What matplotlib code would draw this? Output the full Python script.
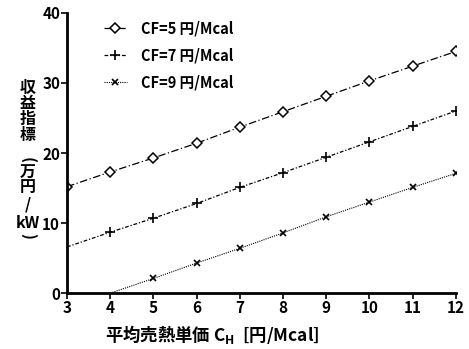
import matplotlib
matplotlib.use("Agg")
import matplotlib.pyplot as plt

plt.rcParams['font.family'] = ['Noto Sans CJK JP', 'DejaVu Sans']

x5 = [3, 4, 5, 6, 7, 8, 9, 10, 11, 12]
y5 = [15.2, 17.3, 19.3, 21.4, 23.7, 25.9, 28.1, 30.3, 32.4, 34.5]
x7 = [3, 4, 5, 6, 7, 8, 9, 10, 11, 12]
y7 = [6.6, 8.7, 10.7, 12.8, 15.1, 17.2, 19.4, 21.6, 23.8, 26.0]
m7 = [False, True, True, True, True, True, True, True, True, True]
x9 = [4, 5, 6, 7, 8, 9, 10, 11, 12]
y9 = [0.0, 2.1, 4.3, 6.4, 8.6, 10.9, 13.0, 15.1, 17.1]
m9 = [False, True, True, True, True, True, True, True, True]
labels = ["CF=5 円/Mcal", "CF=7 円/Mcal", "CF=9 円/Mcal"]

fig = plt.figure(figsize=(4.69, 3.49), dpi=100)
ax = fig.add_axes([0.143, 0.160, 0.829, 0.803])

ax.plot(x5, y5, color='black', lw=0.9, linestyle=(0, (6, 2, 1, 2)),
        marker='D', markersize=5, markerfacecolor='white', markeredgewidth=1.1,
        label=labels[0])
ax.plot(x7, y7, color='black', lw=0.9, linestyle=(0, (3, 1.5, 1, 1.5)),
        marker='+', markersize=7, markeredgewidth=1.2, markevery=m7,
        label=labels[1])
ax.plot(x9, y9, color='black', lw=0.8, linestyle=(0, (1, 1)),
        marker='x', markersize=5, markeredgewidth=1.2, markevery=m9,
        label=labels[2])

ax.set_xlim(3, 12)
ax.set_ylim(0, 40)
ax.set_xticks(range(3, 13))
ax.set_yticks([0, 10, 20, 30, 40])
for s in ['top', 'right']:
    ax.spines[s].set_visible(False)
for s in ['left', 'bottom']:
    ax.spines[s].set_linewidth(2)
ax.tick_params(direction='out', length=4, width=1.2, labelsize=11, pad=1)
for t in ax.get_xticklabels() + ax.get_yticklabels():
    t.set_fontweight('bold')

ax.legend(frameon=False, loc='upper left', bbox_to_anchor=(0.06, 1.02),
          handlelength=1.6, handletextpad=1.0, labelspacing=0.75,
          prop={'weight': 'bold', 'size': 10.5})

fig.text(212 / 469, 1 - 334 / 349, "平均売熱単価 C$_\\mathregular{H}$  [円/Mcal]",
         ha='center', va='center', fontsize=12.5, fontweight='bold')

for ch, yp in zip(["収", "益", "指", "標"], [88, 103, 119, 135]):
    fig.text(28 / 469, 1 - yp / 349, ch, ha='center', va='center',
             fontsize=11.5, fontweight='bold')
for ch, yp in zip(["(", "万", "円", "/", "kW", ")"], [160, 172, 187, 204, 223, 236]):
    rot = -90 if ch in "()" else 0
    fig.text(28 / 469, 1 - yp / 349, ch, ha='center', va='center',
             fontsize=11.5, fontweight='bold', rotation=rot)

fig.savefig("out.png", dpi=100)
